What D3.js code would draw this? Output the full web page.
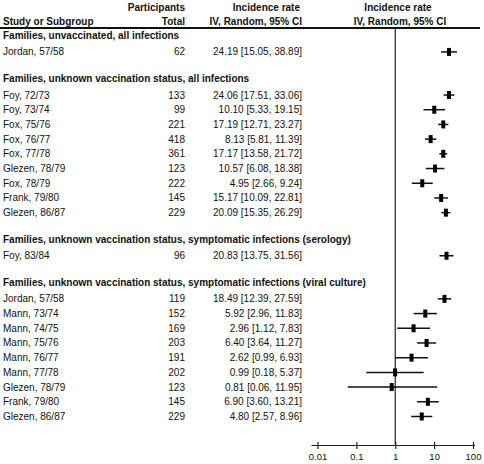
<!DOCTYPE html>
<html>
<head>
<meta charset="utf-8">
<script src="https://cdn.jsdelivr.net/npm/d3@7"></script>
<style>
  html, body { margin: 0; padding: 0; background: #fff; }
  svg { display: block; font-family: "Liberation Sans", Arial, sans-serif; }
</style>
</head>
<body>
<svg id="chart" width="484" height="464"></svg>
<script>
// ---------------- data ----------------
const sectionTitles = [
  "Families, unvaccinated, all infections",
  "Families, unknown vaccination status, all infections",
  "Families, unknown vaccination status, symptomatic infections (serology)",
  "Families, unknown vaccination status, symptomatic infections (viral culture)"
];
const studies = [
  "Jordan, 57/58",
  "Foy, 72/73", "Foy, 73/74", "Fox, 75/76", "Fox, 76/77", "Fox, 77/78",
  "Glezen, 78/79", "Fox, 78/79", "Frank, 79/80", "Glezen, 86/87",
  "Foy, 83/84",
  "Jordan, 57/58", "Mann, 73/74", "Mann, 74/75", "Mann, 75/76", "Mann, 76/77",
  "Mann, 77/78", "Glezen, 78/79", "Frank, 79/80", "Glezen, 86/87"
];
const sectionOf = [0, 1,1,1,1,1,1,1,1,1, 2, 3,3,3,3,3,3,3,3,3];
const participants = [62, 133,99,221,418,361,123,222,145,229, 96, 119,152,169,203,191,202,123,145,229];
const rate   = [24.19, 24.06,10.10,17.19,8.13,17.17,10.57,4.95,15.17,20.09, 20.83, 18.49,5.92,2.96,6.40,2.62,0.99,0.81,6.90,4.80];
const ciLow  = [15.05, 17.51,5.33,12.71,5.81,13.58,6.08,2.66,10.09,15.35, 13.75, 12.39,2.96,1.12,3.64,0.99,0.18,0.06,3.60,2.57];
const ciHigh = [38.89, 33.06,19.15,23.27,11.39,21.72,18.38,9.24,22.81,26.29, 31.56, 27.59,11.83,7.83,11.27,6.93,5.37,11.95,13.21,8.96];
const xTicks = [0.01, 0.1, 1, 10, 100];
const xTickLabels = ["0.01", "0.1", "1", "10", "100"];

// ---------------- layout ----------------
const svg = d3.select("#chart");
const FS = 10;

// build row list (headers + studies) with unit offsets
const rows = [];
let u = 0, prevType = null;
studies.forEach((s, i) => {
  const sec = sectionOf[i];
  if (i === 0 || sectionOf[i - 1] !== sec) {
    if (prevType) u += 1.8;
    rows.push({ type: "header", text: sectionTitles[sec], u });
    prevType = "header";
  }
  u += prevType === "header" ? 1.13 : 1;
  rows.push({ type: "study", i, u });
  prevType = "study";
});
const y = d3.scaleLinear().domain([0, u]).range([35.3, 416.5]);
const x = d3.scaleLog().domain([0.01, 100]).range([317.5, 473]);

const colName = 3, colN = 185, colCI = 302, centerR = 400;
const fmt = d3.format(".2f");

// ---------------- header ----------------
const hdr = svg.append("g").attr("font-weight", "bold").attr("font-size", FS).attr("fill", "#111");
hdr.append("text").attr("x", colN).attr("y", 10.5).attr("text-anchor", "end").text("Participants");
hdr.append("text").attr("x", colName).attr("y", 24.5).text("Study or Subgroup");
hdr.append("text").attr("x", colN).attr("y", 24.5).attr("text-anchor", "end").text("Total");
hdr.append("text").attr("x", colCI - 2).attr("y", 10.5).attr("text-anchor", "end").text("Incidence rate");
hdr.append("text").attr("x", colCI).attr("y", 24.5).attr("text-anchor", "end").text("IV, Random, 95% CI");
hdr.append("text").attr("x", centerR - 2).attr("y", 10.5).attr("text-anchor", "middle").text("Incidence rate");
hdr.append("text").attr("x", centerR).attr("y", 24.5).attr("text-anchor", "middle").text("IV, Random, 95% CI");

svg.append("line").attr("x1", 0).attr("x2", 480).attr("y1", 28).attr("y2", 28)
  .attr("stroke", "#111").attr("stroke-width", 2);

// line of no effect
const axisY = 445.5;
svg.append("line").attr("x1", x(1)).attr("x2", x(1)).attr("y1", 28).attr("y2", axisY)
  .attr("stroke", "#222").attr("stroke-width", 1.2);

// ---------------- rows ----------------
const g = svg.append("g").attr("font-size", FS).attr("fill", "#111");
rows.forEach(r => {
  const yy = y(r.u);
  if (r.type === "header") {
    g.append("text").attr("x", colName).attr("y", yy).attr("dy", "0.35em")
      .attr("font-weight", "bold").text(r.text);
  } else {
    const i = r.i;
    g.append("text").attr("x", colName).attr("y", yy).attr("dy", "0.35em").text(studies[i]);
    g.append("text").attr("x", colN).attr("y", yy).attr("dy", "0.35em").attr("text-anchor", "end").text(participants[i]);
    g.append("text").attr("x", colCI).attr("y", yy).attr("dy", "0.35em").attr("text-anchor", "end")
      .text(`${fmt(rate[i])} [${fmt(ciLow[i])}, ${fmt(ciHigh[i])}]`);
    svg.append("line").attr("x1", x(ciLow[i])).attr("x2", x(ciHigh[i]))
      .attr("y1", yy).attr("y2", yy).attr("stroke", "#111").attr("stroke-width", 1.5);
    svg.append("rect").attr("x", x(rate[i]) - 2).attr("y", yy - 4)
      .attr("width", 4).attr("height", 8).attr("fill", "#000");
  }
});

// ---------------- axis ----------------
svg.append("line").attr("x1", 311.5).attr("x2", 475).attr("y1", axisY).attr("y2", axisY)
  .attr("stroke", "#222").attr("stroke-width", 1.2);
const axis = d3.axisBottom(x).tickValues(xTicks).tickFormat((d, k) => xTickLabels[k]).tickSize(3.5).tickPadding(4);
const ag = svg.append("g").attr("transform", `translate(0,${axisY})`).call(axis);
ag.select(".domain").remove();
ag.selectAll(".tick line").attr("y1", -3.5).attr("stroke", "#222").attr("stroke-width", 1.2);
ag.selectAll(".tick text").attr("font-size", 9.5).attr("font-family", "Liberation Sans, Arial, sans-serif").attr("fill", "#111");
</script>
</body>
</html>
